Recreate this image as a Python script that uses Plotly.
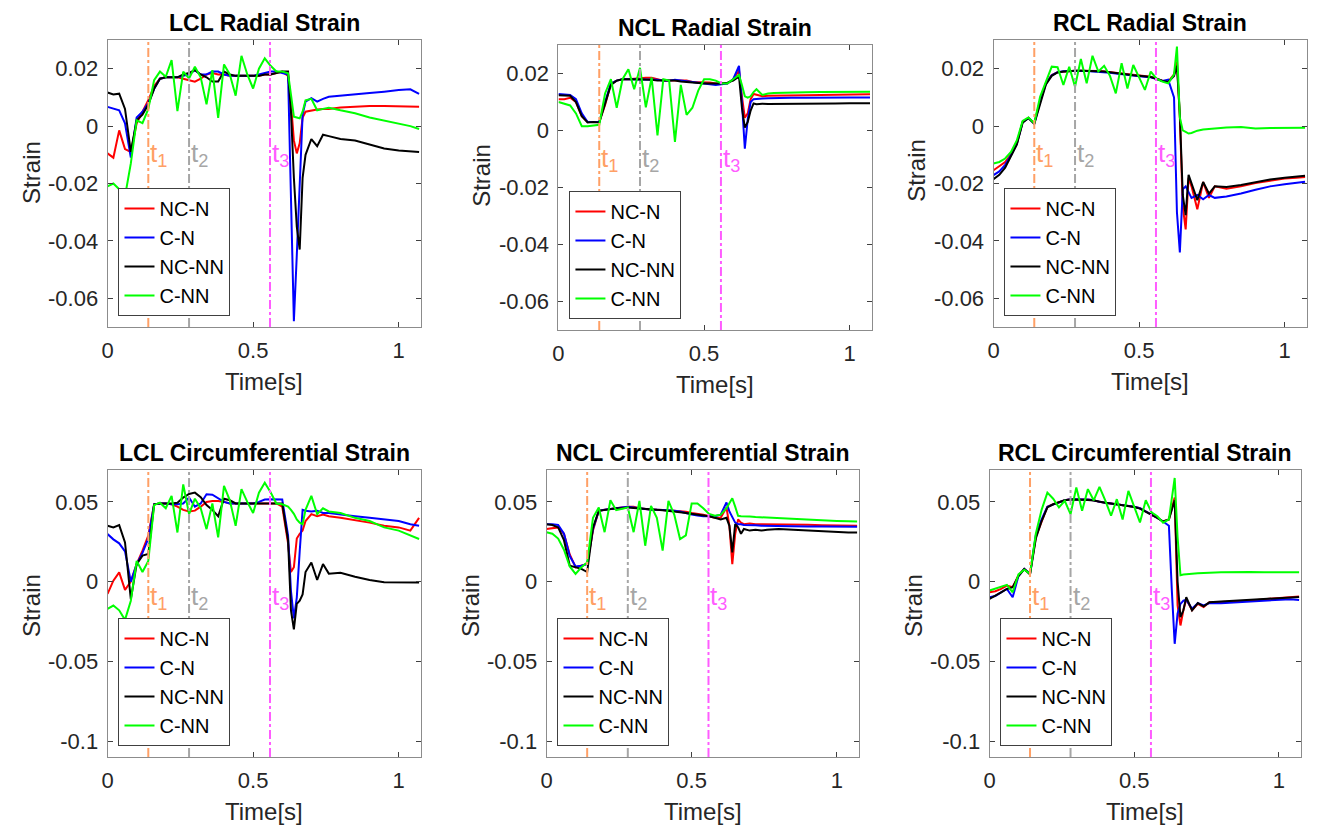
import plotly.graph_objects as go

# ---------------- data ----------------
T = [0.00, 0.02, 0.04, 0.06, 0.08, 0.10, 0.12, 0.14, 0.16, 0.18, 0.20, 0.22, 0.24, 0.26, 0.28, 0.30,
     0.32, 0.34, 0.36, 0.38, 0.40, 0.42, 0.44, 0.46, 0.48, 0.50, 0.52, 0.54, 0.56, 0.58, 0.60,
     0.62, 0.63, 0.64, 0.65, 0.66, 0.67, 0.68, 0.70, 0.72, 0.74, 0.76, 0.80, 0.85, 0.90, 0.95, 1.00, 1.04, 1.07]

SERIES = ["NC-N", "C-N", "NC-NN", "C-NN"]
T_EVENTS = [0.14, 0.28, 0.558]
T_LABELS = ["t<sub>1</sub>", "t<sub>2</sub>", "t<sub>3</sub>"]

# LCL radial
LCL_R_NCN = [-0.0095, -0.011, -0.0015, -0.008, -0.009, 0.001, 0.005, 0.009, 0.014, 0.0165, 0.017, 0.017, 0.017, 0.0165, 0.016, 0.0155,
             0.0165, 0.018, 0.0185, 0.018, 0.018, 0.0175, 0.0175, 0.0175, 0.0175, 0.0175, 0.0175, 0.018, 0.018, 0.0185, 0.019,
             0.0175, 0.008, -0.005, -0.0095, -0.006, 0.003, 0.005, 0.0055, 0.0058, 0.006, 0.006, 0.0065, 0.0068, 0.007, 0.007, 0.0068, 0.0068, 0.0067]
LCL_R_CN = [0.0067, 0.006, 0.0055, 0.001, -0.011, 0.003, 0.005, 0.008, 0.013, 0.0165, 0.017, 0.017, 0.017, 0.0175, 0.018, 0.0195,
            0.018, 0.018, 0.019, 0.019, 0.018, 0.0175, 0.0175, 0.0175, 0.0175, 0.0175, 0.018, 0.0185, 0.019, 0.019, 0.0185,
            0.018, -0.025, -0.068, -0.045, -0.018, 0.004, 0.0085, 0.0097, 0.0085, 0.0095, 0.0102, 0.0105, 0.011, 0.0115, 0.012, 0.0126, 0.0128, 0.0112]
LCL_R_NCNN = [0.0117, 0.011, 0.0113, 0.006, -0.009, 0.002, 0.004, 0.0075, 0.013, 0.0165, 0.017, 0.017, 0.017, 0.018, 0.0185, 0.0195,
              0.018, 0.017, 0.0155, 0.0155, 0.019, 0.018, 0.0175, 0.0175, 0.0175, 0.0175, 0.0175, 0.018, 0.018, 0.0185, 0.019,
              0.019, 0.005, -0.018, -0.035, -0.043, -0.018, -0.01, -0.0045, -0.007, -0.003, -0.0035, -0.0045, -0.005, -0.0065, -0.0078, -0.0085, -0.0088, -0.009]
LCL_R_CNN = [-0.021, -0.020, -0.022, -0.0245, -0.013, 0.002, 0.001, 0.006, 0.016, 0.019, 0.0172, 0.023, 0.0052, 0.019, 0.0166, 0.0207,
             0.017, 0.0076, 0.0195, 0.0029, 0.0215, 0.018, 0.0106, 0.0245, 0.018, 0.0131, 0.020, 0.0236, 0.021, 0.019, 0.019,
             0.0184, 0.011, 0.0033, 0.003, 0.0027, 0.005, 0.009, 0.0095, 0.0055, 0.006, 0.0064, 0.0055, 0.0045, 0.003, 0.002, 0.0009, 0.0, -0.001]

# NCL radial
NCL_R_NCN = [0.011, 0.011, 0.0115, 0.010, 0.005, 0.003, 0.003, 0.003, 0.009, 0.0165, 0.0175, 0.018, 0.018, 0.0182, 0.0182, 0.0185,
             0.0185, 0.018, 0.0175, 0.0175, 0.0175, 0.0175, 0.0175, 0.017, 0.017, 0.0168, 0.0168, 0.0165, 0.0165, 0.0165, 0.018,
             0.021, 0.012, 0.0045, 0.006, 0.011, 0.0128, 0.0125, 0.012, 0.0122, 0.0122, 0.0122, 0.0123, 0.0124, 0.0125, 0.0126, 0.0127, 0.0127, 0.0127]
NCL_R_CN = [0.0128, 0.0127, 0.0125, 0.011, 0.006, 0.003, 0.003, 0.003, 0.010, 0.0165, 0.0175, 0.018, 0.018, 0.018, 0.018, 0.018,
            0.018, 0.0178, 0.0175, 0.0175, 0.0178, 0.0175, 0.0172, 0.017, 0.0168, 0.0165, 0.0162, 0.016, 0.0162, 0.0165, 0.018,
            0.0227, 0.010, -0.0064, 0.004, 0.010, 0.011, 0.011, 0.0112, 0.0113, 0.0114, 0.0114, 0.0115, 0.0115, 0.0116, 0.0116, 0.0116, 0.0116, 0.0116]
NCL_R_NCNN = [0.0124, 0.0124, 0.0122, 0.010, 0.005, 0.0028, 0.003, 0.0028, 0.009, 0.016, 0.0175, 0.018, 0.018, 0.018, 0.018, 0.018,
              0.0178, 0.0175, 0.0175, 0.0175, 0.0175, 0.0172, 0.017, 0.0168, 0.0165, 0.0165, 0.0165, 0.0165, 0.0165, 0.0168, 0.0175,
              0.019, 0.008, 0.001, 0.003, 0.007, 0.0095, 0.0092, 0.0094, 0.0093, 0.0093, 0.0094, 0.0094, 0.0094, 0.0095, 0.0095, 0.0096, 0.0096, 0.0096]
NCL_R_CNN = [0.010, 0.0095, 0.0088, 0.006, 0.0015, 0.0015, 0.0017, 0.002, 0.013, 0.018, 0.008, 0.018, 0.0215, 0.0145, 0.022, 0.0081,
             0.0186, -0.0017, 0.018, 0.0175, -0.004, 0.016, 0.0055, 0.008, 0.014, 0.018, 0.018, 0.0175, 0.0165, 0.0165, 0.018,
             0.0195, 0.016, 0.012, 0.0115, 0.012, 0.0135, 0.0145, 0.0125, 0.013, 0.0132, 0.0132, 0.0133, 0.0134, 0.0135, 0.0136, 0.0136, 0.0136, 0.0136]

# RCL radial
RCL_R_NCN = [-0.0154, -0.014, -0.0125, -0.0098, -0.006, 0.0015, 0.0029, 0.001, 0.009, 0.015, 0.0178, 0.0188, 0.019, 0.0192, 0.0193, 0.0193,
             0.0193, 0.0192, 0.0192, 0.019, 0.0188, 0.0185, 0.0182, 0.018, 0.0178, 0.0176, 0.0175, 0.0172, 0.0165, 0.0158, 0.0155,
             0.018, 0.0225, 0.003, -0.028, -0.036, -0.018, -0.021, -0.029, -0.0195, -0.025, -0.021, -0.0218, -0.021, -0.0198, -0.019, -0.0183, -0.018, -0.0177]
RCL_R_CN = [-0.0171, -0.0158, -0.0135, -0.0102, -0.0062, 0.0014, 0.0028, 0.0009, 0.0085, 0.0148, 0.0177, 0.0188, 0.0191, 0.0192, 0.0193, 0.0193,
            0.0192, 0.0191, 0.019, 0.0189, 0.0186, 0.0183, 0.018, 0.0178, 0.0176, 0.0174, 0.0172, 0.017, 0.0164, 0.0157, 0.0162,
            0.010, -0.030, -0.044, -0.022, -0.021, -0.023, -0.025, -0.024, -0.0255, -0.024, -0.025, -0.0245, -0.0235, -0.0222, -0.021, -0.0203, -0.0198, -0.0194]
RCL_R_NCNN = [-0.0185, -0.017, -0.0145, -0.0105, -0.0065, 0.0012, 0.0028, 0.0008, 0.008, 0.0145, 0.0175, 0.0187, 0.019, 0.0192, 0.0193, 0.0193,
              0.0193, 0.0192, 0.0191, 0.019, 0.0187, 0.0184, 0.0181, 0.0179, 0.0177, 0.0175, 0.0174, 0.0171, 0.0165, 0.0157, 0.0154,
              0.0175, 0.021, 0.004, -0.024, -0.031, -0.017, -0.02, -0.0258, -0.0195, -0.0235, -0.021, -0.0212, -0.0205, -0.0195, -0.0186, -0.018, -0.0176, -0.0173]
RCL_R_CNN = [-0.013, -0.0125, -0.0113, -0.009, -0.005, 0.0018, 0.003, 0.001, 0.0102, 0.0155, 0.0207, 0.0205, 0.0143, 0.0207, 0.0137, 0.0234,
             0.0149, 0.0245, 0.019, 0.021, 0.0175, 0.0114, 0.0219, 0.0131, 0.0213, 0.017, 0.0126, 0.019, 0.0165, 0.0155, 0.0149,
             0.018, 0.0277, 0.003, -0.0015, -0.002, -0.0026, -0.0024, -0.0016, -0.0012, -0.001, -0.0008, -0.0005, -0.0003, -0.0008, -0.0007, -0.0006, -0.0006, -0.0006]

# LCL circumferential
LCL_C_NCN = [-0.0077, 0.0006, 0.0058, -0.0052, 0.0, 0.011, 0.0194, 0.0288, 0.0485, 0.049, 0.049, 0.0485, 0.047, 0.045, 0.044, 0.0445,
             0.047, 0.050, 0.0506, 0.0506, 0.050, 0.049, 0.049, 0.049, 0.049, 0.049, 0.049, 0.049, 0.049, 0.049, 0.047,
             0.024, 0.006, 0.009, 0.027, 0.030, 0.032, 0.038, 0.0423, 0.041, 0.042, 0.041, 0.040, 0.0385, 0.037, 0.035, 0.034, 0.032, 0.040]
LCL_C_CN = [0.0298, 0.0265, 0.024, 0.019, 0.0, 0.011, 0.018, 0.027, 0.0485, 0.049, 0.049, 0.0485, 0.0485, 0.049, 0.0527, 0.047,
            0.049, 0.0548, 0.0545, 0.052, 0.050, 0.049, 0.049, 0.049, 0.049, 0.049, 0.050, 0.0515, 0.0517, 0.0517, 0.0515,
            0.029, -0.006, -0.023, -0.010, 0.019, 0.045, 0.0445, 0.044, 0.0445, 0.043, 0.043, 0.042, 0.041, 0.040, 0.039, 0.038, 0.036, 0.035]
LCL_C_NCNN = [0.035, 0.034, 0.0354, 0.0246, -0.011, 0.011, 0.0163, 0.0173, 0.0485, 0.049, 0.049, 0.049, 0.0495, 0.0527, 0.055, 0.0558,
              0.053, 0.048, 0.045, 0.041, 0.052, 0.051, 0.049, 0.049, 0.049, 0.049, 0.049, 0.049, 0.049, 0.049, 0.049,
              0.026, -0.018, -0.030, -0.014, -0.012, -0.008, 0.006, 0.012, 0.001, 0.011, 0.005, 0.0055, 0.003, 0.001, -0.0004, -0.0004, -0.0005, -0.0005]
LCL_C_CNN = [-0.0171, -0.015, -0.018, -0.024, -0.012, 0.013, 0.006, 0.013, 0.048, 0.0495, 0.046, 0.0538, 0.0308, 0.061, 0.0423, 0.052,
             0.046, 0.0329, 0.049, 0.0277, 0.060, 0.051, 0.035, 0.058, 0.050, 0.043, 0.0558, 0.062, 0.056, 0.049, 0.0485,
             0.047, 0.045, 0.0425, 0.039, 0.037, 0.036, 0.045, 0.0538, 0.0423, 0.046, 0.044, 0.043, 0.040, 0.038, 0.034, 0.032, 0.029, 0.0267]

# NCL circumferential
NCL_C_NCN = [0.033, 0.0335, 0.034, 0.030, 0.017, 0.009, 0.010, 0.011, 0.032, 0.0444, 0.045, 0.0455, 0.046, 0.0465, 0.047, 0.047,
             0.046, 0.0455, 0.045, 0.045, 0.045, 0.0448, 0.0445, 0.0442, 0.0438, 0.043, 0.0425, 0.042, 0.041, 0.040, 0.040,
             0.0465, 0.035, 0.011, 0.030, 0.039, 0.037, 0.036, 0.0365, 0.036, 0.036, 0.036, 0.036, 0.0358, 0.0356, 0.0354, 0.0352, 0.035, 0.035]
NCL_C_CN = [0.036, 0.036, 0.0355, 0.030, 0.016, 0.0095, 0.010, 0.011, 0.033, 0.0444, 0.045, 0.0455, 0.046, 0.0465, 0.047, 0.0465,
            0.046, 0.0455, 0.045, 0.045, 0.045, 0.0448, 0.0445, 0.044, 0.043, 0.042, 0.0415, 0.041, 0.041, 0.041, 0.042,
            0.0496, 0.044, 0.040, 0.037, 0.036, 0.036, 0.0355, 0.0355, 0.0353, 0.035, 0.035, 0.035, 0.0348, 0.0346, 0.0345, 0.0344, 0.0344, 0.0344]
NCL_C_NCNN = [0.036, 0.0355, 0.034, 0.026, 0.010, 0.009, 0.008, 0.006, 0.034, 0.0444, 0.045, 0.0455, 0.046, 0.046, 0.0465, 0.0462,
              0.0458, 0.0455, 0.045, 0.045, 0.0448, 0.0445, 0.044, 0.0435, 0.043, 0.0425, 0.042, 0.0415, 0.041, 0.040, 0.039,
              0.040, 0.035, 0.0183, 0.036, 0.034, 0.030, 0.033, 0.032, 0.0325, 0.032, 0.0325, 0.033, 0.0325, 0.032, 0.0315, 0.031, 0.0308, 0.0308]
NCL_C_CNN = [0.031, 0.030, 0.027, 0.020, 0.0095, 0.0048, 0.009, 0.012, 0.040, 0.0465, 0.031, 0.051, 0.0448, 0.0455, 0.0465, 0.031,
             0.0506, 0.0225, 0.0475, 0.040, 0.0194, 0.0506, 0.042, 0.0267, 0.029, 0.049, 0.049, 0.046, 0.0425, 0.0413, 0.042,
             0.046, 0.049, 0.0523, 0.047, 0.0413, 0.041, 0.041, 0.0408, 0.0405, 0.0403, 0.040, 0.0398, 0.0395, 0.039, 0.0385, 0.038, 0.0378, 0.0377]

# RCL circumferential
RCL_C_NCN = [-0.0067, -0.006, -0.0046, -0.0025, -0.0035, 0.004, 0.0079, 0.005, 0.028, 0.038, 0.047, 0.0485, 0.050, 0.051, 0.0517, 0.0517,
             0.0517, 0.0515, 0.051, 0.050, 0.0495, 0.049, 0.0488, 0.048, 0.0475, 0.047, 0.046, 0.044, 0.0425, 0.040, 0.0377,
             0.039, 0.046, 0.0527, -0.015, -0.0275, -0.018, -0.011, -0.018, -0.014, -0.016, -0.013, -0.0128, -0.0125, -0.012, -0.011, -0.0105, -0.0098, -0.0094]
RCL_C_CN = [-0.0098, -0.009, -0.0067, -0.0046, -0.0098, 0.0035, 0.0079, 0.005, 0.029, 0.039, 0.047, 0.0485, 0.050, 0.051, 0.0517, 0.0517,
            0.0517, 0.0515, 0.051, 0.050, 0.0495, 0.049, 0.0488, 0.048, 0.0475, 0.047, 0.046, 0.044, 0.0425, 0.040, 0.0377,
            0.035, -0.005, -0.039, -0.020, -0.014, -0.012, -0.0115, -0.017, -0.0135, -0.015, -0.0135, -0.0135, -0.013, -0.0125, -0.012, -0.0115, -0.011, -0.0115]
RCL_C_NCNN = [-0.0108, -0.009, -0.0067, -0.0046, -0.0035, 0.0035, 0.0079, 0.0045, 0.027, 0.038, 0.0465, 0.0485, 0.050, 0.051, 0.0515, 0.0515,
              0.0515, 0.0512, 0.0508, 0.050, 0.0495, 0.049, 0.0485, 0.048, 0.0475, 0.0468, 0.0458, 0.044, 0.0423, 0.040, 0.0377,
              0.039, 0.045, 0.051, 0.000, -0.0223, -0.018, -0.0098, -0.018, -0.0135, -0.0155, -0.013, -0.0125, -0.012, -0.0115, -0.0108, -0.0102, -0.0098, -0.0096]
RCL_C_CNN = [-0.0056, -0.0045, -0.0035, -0.002, -0.0067, 0.0045, 0.0075, 0.005, 0.030, 0.045, 0.0558, 0.052, 0.0465, 0.0506, 0.0423, 0.059,
             0.0444, 0.058, 0.051, 0.0594, 0.051, 0.0413, 0.0517, 0.039, 0.0569, 0.047, 0.0371, 0.051, 0.0435, 0.041, 0.037,
             0.039, 0.052, 0.065, 0.028, 0.004, 0.0045, 0.0048, 0.005, 0.0052, 0.0055, 0.0056, 0.0058, 0.006, 0.006, 0.0058, 0.0058, 0.0058, 0.0058]

RADIAL_TICKS = [-0.06, -0.04, -0.02, 0, 0.02]
RADIAL_TICKTEXT = ["-0.06", "-0.04", "-0.02", "0", "0.02"]
CIRC_TICKS = [-0.1, -0.05, 0, 0.05]
CIRC_TICKTEXT = ["-0.1", "-0.05", "0", "0.05"]
X_TICKS = [0, 0.5, 1]
X_TICKTEXT = ["0", "0.5", "1"]

# ---------------- styling / layout ----------------
W, H = 1326, 831
FONT = "Liberation Sans, Arial, Helvetica, sans-serif"
TXT = "#262626"
SERIES_COLORS = ["#FF0000", "#0000FF", "#000000", "#00FF00"]
EVENT_COLORS = ["#FFA066", "#A6A6A6", "#FF5CFF"]

panels = [
    dict(title="LCL Radial Strain", box=(102, 417, 40, 327), yr=[-0.07, 0.03], yt=(RADIAL_TICKS, RADIAL_TICKTEXT),
         data=[LCL_R_NCN, LCL_R_CN, LCL_R_NCNN, LCL_R_CNN], ty=-0.0100, ylab_y=172),
    dict(title="NCL Radial Strain", box=(555, 870, 45, 330), yr=[-0.07, 0.03], yt=(RADIAL_TICKS, RADIAL_TICKTEXT),
         data=[NCL_R_NCN, NCL_R_CN, NCL_R_NCNN, NCL_R_CNN], ty=-0.0100, ylab_y=175),
    dict(title="RCL Radial Strain", box=(992, 1307, 40, 327), yr=[-0.07, 0.03], yt=(RADIAL_TICKS, RADIAL_TICKTEXT),
         data=[RCL_R_NCN, RCL_R_CN, RCL_R_NCNN, RCL_R_CNN], ty=-0.0100, ylab_y=170),
    dict(title="LCL Circumferential Strain", box=(102, 417, 470, 757), yr=[-0.11, 0.07], yt=(CIRC_TICKS, CIRC_TICKTEXT),
         data=[LCL_C_NCN, LCL_C_CN, LCL_C_NCNN, LCL_C_CNN], ty=-0.0100, ylab_y=605),
    dict(title="NCL Circumferential Strain", box=(543, 857, 470, 757), yr=[-0.11, 0.07], yt=(CIRC_TICKS, CIRC_TICKTEXT),
         data=[NCL_C_NCN, NCL_C_CN, NCL_C_NCNN, NCL_C_CNN], ty=-0.0100, ylab_y=605),
    dict(title="RCL Circumferential Strain", box=(988, 1301, 470, 757), yr=[-0.11, 0.07], yt=(CIRC_TICKS, CIRC_TICKTEXT),
         data=[RCL_C_NCN, RCL_C_CN, RCL_C_NCNN, RCL_C_CNN], ty=-0.0100, ylab_y=605),
]

for p in panels:
    for d in p["data"]:
        assert len(d) == len(T), (p["title"], len(d))

fig = go.Figure()
layout = dict(width=W, height=H, margin=dict(l=0, r=0, t=0, b=0),
              paper_bgcolor="white", plot_bgcolor="white",
              font=dict(family=FONT, color=TXT), showlegend=True)
shapes, annotations = [], []


def px(x):
    return x / W


def py(y):
    return 1 - y / H


for k, p in enumerate(panels, start=1):
    sfx = "" if k == 1 else str(k)
    x0, x1, y0, y1 = p["box"]
    leg = "legend" if k == 1 else f"legend{k}"
    for name, col, vals in zip(SERIES, SERIES_COLORS, p["data"]):
        fig.add_trace(go.Scatter(x=T, y=vals, mode="lines", name=name,
                                 line=dict(color=col, width=2),
                                 xaxis=f"x{sfx}", yaxis=f"y{sfx}", legend=leg))
    axis_common = dict(showgrid=False, zeroline=False, showline=True, linecolor="#8c8c8c", linewidth=1,
                       mirror="ticks", ticks="inside", ticklen=5, tickcolor="#404040",
                       tickfont=dict(size=22, color=TXT, family=FONT))
    layout[f"xaxis{sfx}"] = dict(domain=[px(x0), px(x1)], range=[0, 1.077], anchor=f"y{sfx}",
                                 tickvals=X_TICKS, ticktext=X_TICKTEXT, ticklabelstandoff=4, **axis_common)
    layout[f"yaxis{sfx}"] = dict(domain=[py(y1), py(y0)], range=p["yr"], anchor=f"x{sfx}",
                                 tickvals=p["yt"][0], ticktext=p["yt"][1], ticklabelstandoff=4, **axis_common)
    layout[leg] = dict(x=px(x0 + 11), y=py(y1 - 11), xanchor="left", yanchor="bottom",
                       bgcolor="white", bordercolor="#404040", borderwidth=1,
                       font=dict(size=20, color="#000000", family=FONT), tracegroupgap=0)
    # event lines & labels
    for tv, tl, tc in zip(T_EVENTS, T_LABELS, EVENT_COLORS):
        shapes.append(dict(type="line", xref=f"x{sfx}", yref=f"y{sfx} domain", x0=tv, x1=tv, y0=0, y1=1,
                           line=dict(color=tc, width=2, dash="dashdot"), layer="above"))
        annotations.append(dict(xref=f"x{sfx}", yref=f"y{sfx}", x=tv, y=p["ty"], text=tl, showarrow=False,
                                xanchor="left", yanchor="middle", font=dict(size=26, color=tc, family=FONT)))
    # title
    annotations.append(dict(xref="paper", yref="paper", x=px((x0 + x1) / 2), y=py(y0 - 17),
                            text=f"<b>{p['title']}</b>", showarrow=False, xanchor="center", yanchor="middle",
                            font=dict(size=23, color="#000000", family=FONT)))
    # axis labels
    annotations.append(dict(xref="paper", yref="paper", x=px((x0 + x1) / 2), y=py(y1 + 54),
                            text="Time[s]", showarrow=False, xanchor="center", yanchor="middle",
                            font=dict(size=24, color=TXT, family=FONT)))
    annotations.append(dict(xref="paper", yref="paper", x=px(x0 - 77), y=py(p["ylab_y"]),
                            text="Strain", showarrow=False, textangle=-90, xanchor="center", yanchor="middle",
                            font=dict(size=24, color=TXT, family=FONT)))

layout["shapes"] = shapes
layout["annotations"] = annotations
fig.update_layout(**layout)
fig.write_html("out.html", config={"displayModeBar": False},
               post_script="document.body.style.margin='0px';document.body.style.padding='0px';")
